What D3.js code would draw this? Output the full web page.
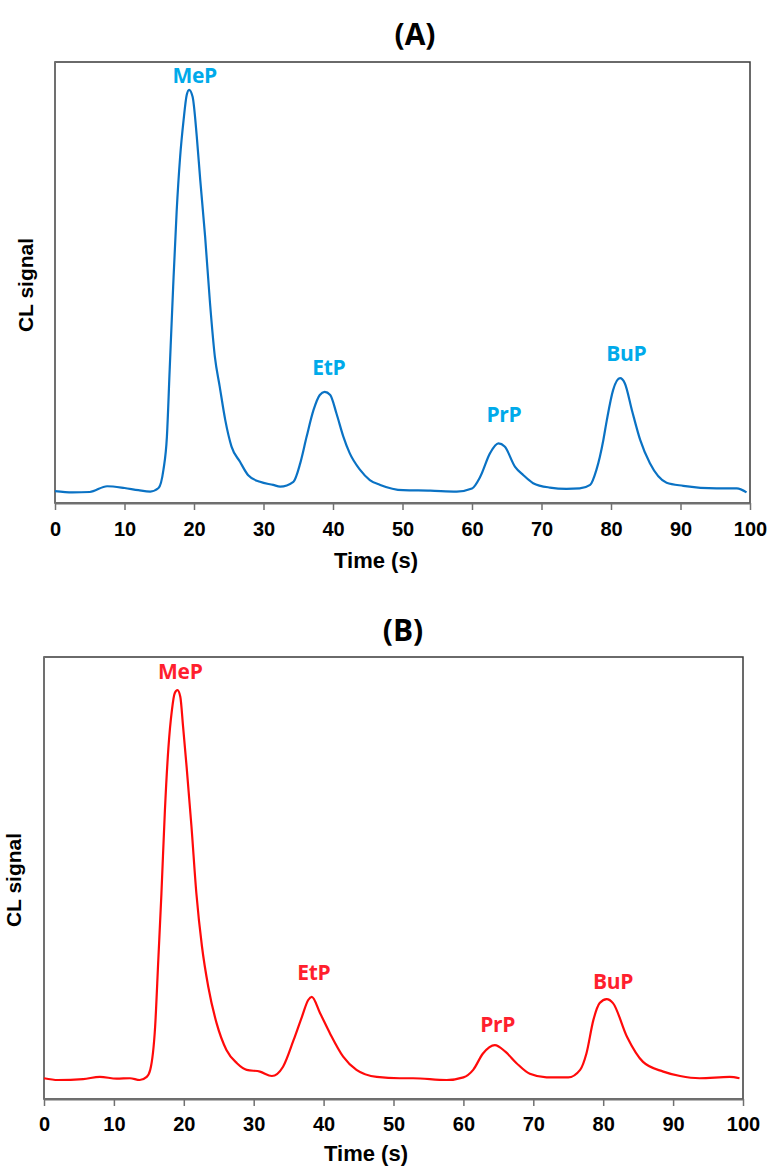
<!DOCTYPE html>
<html>
<head>
<meta charset="utf-8">
<script src="https://cdn.jsdelivr.net/npm/d3@7"></script>
<style>
    body { margin: 0; background: #fff; }
    svg text { font-family: "Liberation Sans", Arial, sans-serif; }
    .panel-title, .peak-label { font-family: "Open Sans", sans-serif; font-weight: 700; }
</style>
</head>
<body>
<svg id="chart" width="770" height="1167"></svg>
<script>
// time axis ticks (s)
const xTicks = [0, 10, 20, 30, 40, 50, 60, 70, 80, 90, 100]
const peakNames = ["MeP", "EtP", "PrP", "BuP"]

// panel A trace (time in s, signal in arbitrary units 0-100)
const timeA = [0, 2.5, 5, 7.5, 10, 12, 13.7, 14.9, 15.6, 16.1, 16.5, 17.0, 17.5, 18.0, 18.5, 18.95, 19.3, 19.8,
    20.4, 20.9, 21.6, 22.3, 23.0, 23.7, 24.5, 25.4, 26.6, 27.8, 29.5, 31.4, 32.4, 34.3, 35.3, 36.2, 37.2, 38.1,
    38.8, 39.6, 40.5, 41.5, 42.4, 43.9, 45.3, 46.8, 50.1, 54.0, 57.8, 60.0, 61.2, 62.6, 63.8, 64.7, 66.2, 67.4,
    68.8, 71.2, 73.6, 75.5, 77.0, 77.9, 78.4, 78.9, 79.4, 80.3, 81.3, 82.0, 83.0, 84.2, 85.6, 88.0, 90.4, 95.2,
    98.1, 99.5]
const signalA = [2.7, 2.4, 2.5, 3.8, 3.4, 2.9, 2.6, 3.4, 7.5, 15.0, 30.2, 49.0, 66.0, 78.4, 86.8, 92.5, 93.7, 92.1,
    83.1, 73.2, 60.4, 45.4, 33.2, 26.4, 18.8, 12.8, 9.4, 6.3, 4.8, 4.1, 3.7, 4.8, 9.1, 15.0, 21.1, 24.5,
    25.2, 24.5, 20.3, 15.0, 11.3, 7.5, 5.2, 4.1, 2.9, 2.8, 2.6, 3.3, 6.0, 11.3, 13.5, 12.8, 8.2, 6.3,
    4.5, 3.5, 3.2, 3.3, 4.1, 7.5, 10.5, 14.3, 18.8, 25.6, 28.3, 27.1, 21.1, 14.3, 9.0, 4.6, 3.9, 3.3,
    3.3, 2.4]
// where the peak names sit (time, signal)
const labelTimeA = [20.1, 39.4, 64.6, 82.2]
const labelLevelA = [95.2, 29.0, 18.4, 32.2]

// panel B trace
const timeB = [0, 2.0, 5.6, 8.0, 10.4, 12.3, 13.7, 14.7, 15.2, 15.9, 16.35, 16.8, 17.3, 17.8, 18.3, 18.7, 19.1,
    19.5, 19.9, 20.4, 21.1, 21.8, 22.6, 23.5, 24.7, 26.1, 27.6, 29.0, 30.9, 32.6, 34.2, 35.7, 36.9, 37.8, 38.3,
    39.5, 40.9, 42.8, 44.7, 47.6, 50.9, 52.8, 57.6, 60.0, 61.4, 62.8, 64.5, 66.0, 67.6, 69.5, 71.9, 75.0,
    76.7, 77.6, 78.6, 79.5, 80.5, 81.4, 83.4, 85.7, 88.6, 91.0, 93.8, 98.1, 99.5]
const signalB = [4.7, 4.3, 4.5, 5.0, 4.6, 4.7, 4.3, 5.0, 6.6, 16.4, 31.4, 46.5, 65.4, 79.5, 88.0, 91.8, 92.5,
    91.0, 84.2, 75.2, 61.6, 46.5, 34.5, 25.4, 17.1, 11.1, 8.1, 6.6, 6.2, 5.2, 7.3, 13.3, 18.6, 22.4, 23.1,
    19.4, 14.9, 9.6, 6.6, 5.0, 4.7, 4.7, 4.3, 4.9, 6.6, 10.3, 12.2, 10.7, 8.1, 5.7, 4.9, 4.9,
    6.6, 10.3, 17.9, 21.7, 22.6, 21.7, 14.1, 8.4, 6.2, 5.2, 4.7, 5.0, 4.7]
const labelTimeB = [19.5, 38.6, 64.9, 81.4]
const labelLevelB = [95.0, 26.9, 15.2, 24.9]

const svg = d3.select("#chart")

drawPanel = function (p) {
    let x = d3.scaleLinear().domain([0, 100]).range([p.left, p.right])
    let y = d3.scaleLinear().domain([0, 100]).range([p.bottom, p.top])

    let g = svg.append("g")

    // plot frame
    g.append("rect")
     .attr("x", p.left)
     .attr("y", p.top)
     .attr("width", p.right - p.left)
     .attr("height", p.bottom - p.top)
     .attr("fill", "none")
     .attr("stroke", "#3a3a3a")
     .attr("stroke-width", 1.5)

    // left axis line, drawn gray like the bottom one
    g.append("line")
     .attr("x1", p.left).attr("x2", p.left)
     .attr("y1", p.top).attr("y2", p.bottom)
     .attr("stroke", "#707070")
     .attr("stroke-width", 2)

    let axis = g.append("g")
                .attr("transform", "translate(0," + p.bottom + ")")
                .call(d3.axisBottom(x).tickValues(xTicks).tickSize(7).tickSizeOuter(0))

    axis.select(".domain").attr("stroke", "#707070").attr("stroke-width", 2)
    axis.selectAll(".tick line").attr("stroke", "#707070").attr("stroke-width", 1.5)
    axis.selectAll(".tick text")
        .attr("y", p.tickOffset)
        .attr("dy", 0)
        .attr("fill", "#000")
        .style("font-size", "20px")
        .style("font-weight", "bold")

    // trace
    let pts = p.time.map((t, i) => [t, p.signal[i]])
    g.append("path")
     .datum(pts)
     .attr("fill", "none")
     .attr("stroke", p.lineColor)
     .attr("stroke-width", 2.2)
     .attr("stroke-linejoin", "round")
     .attr("d", d3.line().x(d => x(d[0])).y(d => y(d[1])).curve(d3.curveMonotoneX))

    // peak names
    g.selectAll(".peak-label")
     .data(peakNames)
     .enter()
     .append("text")
     .attr("class", "peak-label")
     .attr("x", (d, i) => x(p.labelTime[i]))
     .attr("y", (d, i) => y(p.labelLevel[i]))
     .attr("text-anchor", "middle")
     .attr("fill", p.labelColor)
     .style("font-size", "21px")
     .style("letter-spacing", "-0.3px")
     .text(d => d)

    // titles
    g.append("text")
     .attr("class", "panel-title")
     .attr("x", p.titleX)
     .attr("y", p.titleY)
     .attr("text-anchor", "middle")
     .style("font-size", "30px")
     .text(p.title)

    g.append("text")
     .attr("x", p.xTitleX)
     .attr("y", p.xTitleY)
     .attr("text-anchor", "middle")
     .style("font-size", "22px")
     .style("font-weight", "bold")
     .text("Time (s)")

    g.append("text")
     .attr("transform", "translate(" + p.yTitleX + "," + p.yTitleY + ") rotate(-90)")
     .attr("text-anchor", "middle")
     .style("font-size", "21px")
     .style("font-weight", "bold")
     .text("CL signal")
}

drawPanel({
    left: 55, right: 750, top: 62, bottom: 503,
    time: timeA, signal: signalA,
    labelTime: labelTimeA, labelLevel: labelLevelA,
    lineColor: "#0a72c4", labelColor: "#00aaea",
    tickOffset: 33,
    title: "(A)", titleX: 415, titleY: 45,
    xTitleX: 376, xTitleY: 568,
    yTitleX: 33, yTitleY: 285
})

drawPanel({
    left: 44, right: 743, top: 657, bottom: 1099,
    time: timeB, signal: signalB,
    labelTime: labelTimeB, labelLevel: labelLevelB,
    lineColor: "#ff0a0a", labelColor: "#ff1f2e",
    tickOffset: 32,
    title: "(B)", titleX: 403, titleY: 641,
    xTitleX: 366, xTitleY: 1161,
    yTitleX: 21, yTitleY: 880
})
</script>
</body>
</html>
